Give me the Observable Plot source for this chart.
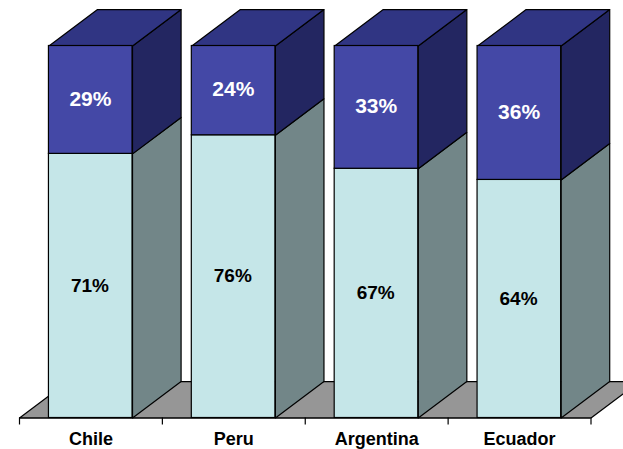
<!DOCTYPE html>
<html>
<head>
<meta charset="utf-8">
<script src="https://cdn.jsdelivr.net/npm/d3@7"></script>
<script src="https://cdn.jsdelivr.net/npm/@observablehq/plot@0.6"></script>
<style>
html,body{margin:0;padding:0;background:#fff;overflow:hidden}
svg{display:block}
</style>
</head>
<body>
<div id="chart"></div>
<script>
const countries = ["Chile", "Peru", "Argentina", "Ecuador"];
const lowerShare = [71, 76, 67, 64];
const upperShare = [29, 24, 33, 36];

const lowerFront = "#c5e6e8", lowerSide = "#728688";
const upperFront = "#4448a6", upperTop = "#303583", upperSide = "#232661";
const floorColor = "#969696";

// Oblique projection of the chart's depth, in data units
const barStart = 0.206, barWidth = 0.585, depthX = 0.34, depthY = 9.8;

const faces = (fn) => countries.flatMap((c, i) => {
  const l = i + barStart, r = l + barWidth;
  return fn(c, l, r, lowerShare[i]);
});
const poly = (id, pts) => pts.map(([x, y]) => ({id, x, y}));

const lowerSideFaces = faces((c, l, r, v) => poly(c, [[r, 0], [r + depthX, depthY], [r + depthX, v + depthY], [r, v]]));
const upperSideFaces = faces((c, l, r, v) => poly(c, [[r, v], [r + depthX, v + depthY], [r + depthX, 100 + depthY], [r, 100]]));
const topFaces = faces((c, l, r) => poly(c, [[l, 100], [l + depthX, 100 + depthY], [r + depthX, 100 + depthY], [r, 100]]));
const floor = poly("floor", [[0, 0], [depthX, depthY], [4 + depthX, depthY], [4, 0]]);

const face = (data, fill) => Plot.line(data, {
  x: "x", y: "y", z: "id", fill, stroke: "#000", strokeWidth: 1.2,
  curve: "linear-closed", strokeLinejoin: "round"
});

const idx = countries.map((_, i) => i);
const fontFamily = "Liberation Sans, Arial, sans-serif";

const chart = Plot.plot({
  width: 623, height: 449,
  marginTop: 45.5, marginBottom: 31.5, marginLeft: 19, marginRight: 32.5,
  style: {background: "#fff", fontFamily},
  x: {domain: [0, 4], label: null},
  y: {domain: [0, 100], axis: null, label: null},
  marks: [
    face(floor, floorColor),
    face(lowerSideFaces, lowerSide),
    face(upperSideFaces, upperSide),
    face(topFaces, upperTop),
    Plot.rect(idx, {
      x1: i => i + barStart, x2: i => i + barStart + barWidth,
      y1: 0, y2: i => lowerShare[i],
      fill: lowerFront, stroke: "#000", strokeWidth: 1.2
    }),
    Plot.rect(idx, {
      x1: i => i + barStart, x2: i => i + barStart + barWidth,
      y1: i => lowerShare[i], y2: 100,
      fill: upperFront, stroke: "#000", strokeWidth: 1.2
    }),
    Plot.text(idx, {
      x: i => i + 0.5, y: i => lowerShare[i] / 2,
      text: i => lowerShare[i] + "%", dx: -1, dy: -0.5,
      fill: "#000", fontSize: 19, fontWeight: "bold", fontFamily
    }),
    Plot.text(idx, {
      x: i => i + 0.5, y: i => lowerShare[i] + upperShare[i] / 2,
      text: i => upperShare[i] + "%", dx: -0.5, dy: -1,
      fill: "#fff", fontSize: 21, fontWeight: "bold", fontFamily
    }),
    Plot.ruleY([0], {stroke: "#000", strokeWidth: 1.2}),
    Plot.axisX({
      ticks: [0, 1, 2, 3, 4], tickSize: 7, tickFormat: () => "", label: null,
      stroke: "#000", strokeWidth: 1.2
    }),
    Plot.axisX({
      ticks: idx.map(i => i + 0.5), tickSize: 0, tickPadding: 14, label: null,
      tickFormat: d => countries[Math.floor(d)],
      fontSize: 18, fontWeight: "bold", fill: "#000", fontFamily
    })
  ]
});
document.getElementById("chart").append(chart);
</script>
</body>
</html>
